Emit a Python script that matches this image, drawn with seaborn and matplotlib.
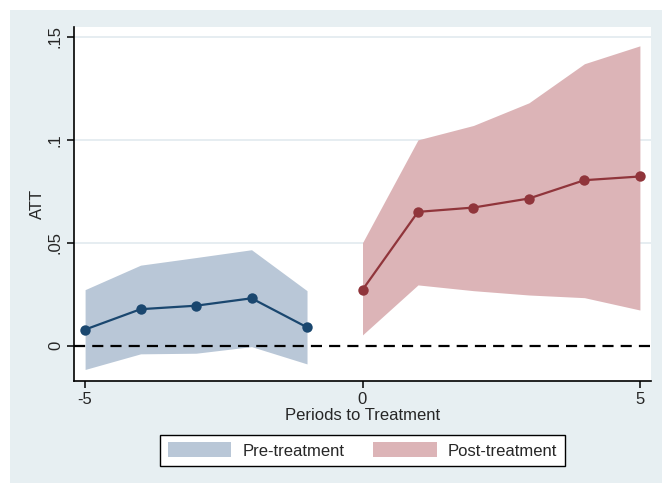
import matplotlib
matplotlib.use("Agg")
import matplotlib.pyplot as plt
import seaborn as sns
import pandas as pd
from matplotlib.patches import Patch, Rectangle

# Event-study estimates with 95% confidence bands
pre_periods = [-5, -4, -3, -2, -1]
pre_att = [0.0078, 0.0177, 0.0194, 0.0230, 0.0089]
pre_lo = [-0.0116, -0.0040, -0.0037, -0.0005, -0.0089]
pre_hi = [0.0272, 0.0391, 0.0428, 0.0466, 0.0267]

post_periods = [0, 1, 2, 3, 4, 5]
post_att = [0.0271, 0.0650, 0.0671, 0.0715, 0.0804, 0.0822]
post_lo = [0.0052, 0.0295, 0.0267, 0.0246, 0.0233, 0.0173]
post_hi = [0.0500, 0.1000, 0.1070, 0.1180, 0.1370, 0.1457]

y_ticks = [0, 0.05, 0.1, 0.15]
y_ticklabels = ["0", ".05", ".1", ".15"]
x_ticks = [-5, 0, 5]
x_ticklabels = ["-5", "0", "5"]
legend_labels = ["Pre-treatment", "Post-treatment"]

sns.set_style("white")
plt.rcParams["font.family"] = ["Liberation Sans", "DejaVu Sans"]

navy = "#1a476f"
maroon = "#90353b"
navy_fill = "#b9c7d7"
maroon_fill = "#dcb4b7"
panel = "#e7eff2"
grid = "#e2eaef"
fs = 12

W, H = 662, 483
fig = plt.figure(figsize=(W / 100, H / 100), dpi=100)
fig.patch.set_facecolor("white")
fig.add_artist(Rectangle((10 / W, 0), 1 - 10 / W, 1 - 10 / H,
                         transform=fig.transFigure, facecolor=panel,
                         edgecolor="none", zorder=0))

ax = fig.add_axes([74 / W, 1 - 381 / H, (651 - 74) / W, (381 - 26.7) / H])
ax.set_facecolor("white")

pre = pd.DataFrame({"period": pre_periods, "att": pre_att, "lo": pre_lo, "hi": pre_hi})
post = pd.DataFrame({"period": post_periods, "att": post_att, "lo": post_lo, "hi": post_hi})

for y in y_ticks[1:]:
    ax.axhline(y, color=grid, lw=1.2, zorder=0.5)

ax.fill_between(pre["period"], pre["lo"], pre["hi"], color=navy_fill, lw=0, zorder=1)
ax.fill_between(post["period"], post["lo"], post["hi"], color=maroon_fill, lw=0, zorder=1)

ax.axhline(0, color="black", lw=1.6, ls=(0, (5, 3.2)), zorder=2)

sns.lineplot(data=pre, x="period", y="att", ax=ax, color=navy, lw=1.6,
             marker="o", markersize=7.5, markeredgewidth=0, zorder=3)
sns.lineplot(data=post, x="period", y="att", ax=ax, color=maroon, lw=1.6,
             marker="o", markersize=7.5, markeredgewidth=0, zorder=3)

ax.set_xlim(-5.2, 5.2)
ax.set_ylim(-0.0172, 0.155)
ax.set_xticks(x_ticks)
ax.set_xticklabels(x_ticklabels)
ax.set_yticks(y_ticks)
ax.set_yticklabels(y_ticklabels, rotation=90, va="center")

for s in ["top", "right"]:
    ax.spines[s].set_visible(False)
for s in ["left", "bottom"]:
    ax.spines[s].set_color("black")
    ax.spines[s].set_linewidth(1.2)

ax.tick_params(axis="both", direction="out", length=5, width=1.1,
               color="black", labelsize=fs, pad=3,
               bottom=True, left=True)
ax.set_xlabel("Periods to Treatment", fontsize=fs, labelpad=1)
ax.set_ylabel("ATT", fontsize=fs, labelpad=2)

handles = [Patch(facecolor=navy_fill, edgecolor="none"),
           Patch(facecolor=maroon_fill, edgecolor="none")]
leg = fig.legend(handles, legend_labels, loc="center",
                 bbox_to_anchor=(362.5 / W, 1 - 450.5 / H), ncol=2,
                 fontsize=fs, frameon=True, fancybox=False,
                 handlelength=3.8, handleheight=1.0, columnspacing=1.75,
                 handletextpad=0.66, borderpad=0.45)
leg.get_frame().set_edgecolor("black")
leg.get_frame().set_linewidth(1.0)
leg.get_frame().set_facecolor("white")
leg.get_frame().set_alpha(1)

fig.savefig("out.png", dpi=100)
